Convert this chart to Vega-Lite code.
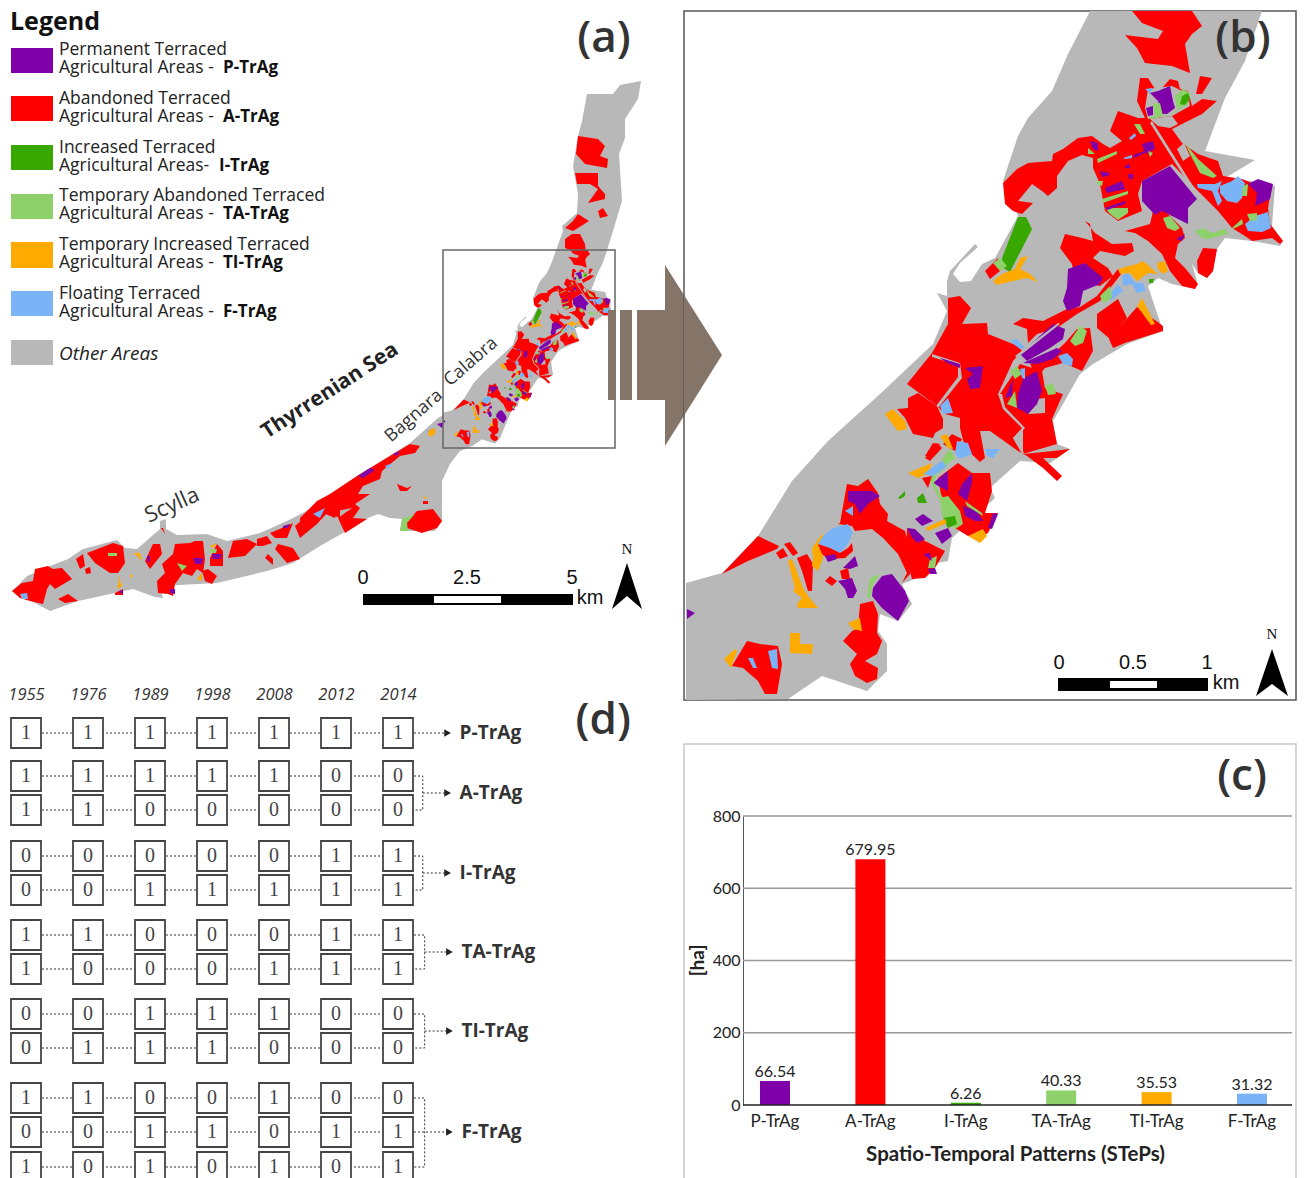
{"$schema":"https://vega.github.io/schema/vega-lite/v6.json","background":"white","padding":{"top":10,"left":0,"right":0,"bottom":0},"columns":2,"align":"each","bounds":"flush","spacing":{"row":44,"column":0},"config":{"view":{"stroke":null},"text":{"font":"Open Sans"}},
"datasets":{
"arrow":[
{"c":"B","g":{"type":"Polygon","coordinates":[[[608,309],[616,309],[616,399],[608,399],[608,309]]]}},
{"c":"B","g":{"type":"Polygon","coordinates":[[[620,309],[632,309],[632,399],[620,399],[620,309]]]}},
{"c":"B","g":{"type":"Polygon","coordinates":[[[637,309],[665,309],[665,264],[722,354],[665,445],[665,399],[637,399],[637,309]]]}}
],
"mapa":[
{"c":"O","g":{"type":"Polygon","coordinates":[[[641,80],[638,98],[625,118],[625,137],[619,153],[622,200],[613,230],[607,249],[591,289],[605,291],[613,314],[604,314],[589,324],[575,327],[579,340],[559,349],[551,361],[553,374],[538,377],[531,388],[519,399],[512,409],[508,418],[500,437],[495,442],[482,438],[472,445],[460,450],[450,463],[442,480],[442,520],[435,530],[400,530],[402,518],[390,517],[378,513],[368,517],[343,532],[320,545],[293,562],[267,570],[217,582],[160,585],[163,597],[155,596],[133,588],[78,600],[50,610],[12,590],[27,575],[50,565],[68,558],[83,548],[117,539],[125,547],[137,548],[160,528],[160,520],[166,518],[166,528],[177,534],[207,533],[227,540],[260,532],[287,520],[320,503],[340,488],[360,473],[410,442],[438,417],[453,409],[464,398],[473,383],[484,371],[498,358],[513,344],[517,330],[531,319],[538,307],[533,297],[541,280],[547,272],[552,261],[555,252],[563,230],[562,225],[577,212],[578,193],[573,165],[578,135],[582,120],[587,93],[613,93],[620,84],[641,80]]]}},
{"c":"A","g":{"type":"Polygon","coordinates":[[[578,135],[598,138],[605,145],[600,155],[608,158],[607,167],[585,163],[576,153],[578,135]]]}},
{"c":"A","g":{"type":"Polygon","coordinates":[[[575,172],[598,172],[598,185],[605,193],[605,198],[588,202],[598,188],[590,183],[577,183],[575,172]]]}},
{"c":"A","g":{"type":"Polygon","coordinates":[[[598,210],[603,207],[608,215],[600,217],[598,210]]]}},
{"c":"A","g":{"type":"Polygon","coordinates":[[[578,213],[589,220],[578,227],[573,230],[565,227],[573,220],[578,213]]]}},
{"c":"A","g":{"type":"Polygon","coordinates":[[[572,233],[580,233],[585,243],[587,265],[570,263],[568,253],[577,252],[565,247],[565,238],[572,233]]]}},
{"c":"A","g":{"type":"Polygon","coordinates":[[[357,475],[410,443],[420,445],[415,452],[400,455],[382,470],[380,478],[363,485],[358,493],[370,493],[355,503],[360,507],[353,517],[367,518],[345,532],[338,517],[352,507],[337,510],[335,517],[323,512],[313,520],[300,535],[300,517],[317,500],[330,493],[357,475]]]}},
{"c":"P","g":{"type":"Polygon","coordinates":[[[358,475],[370,467],[375,469],[363,477],[358,475]]]}},
{"c":"P","g":{"type":"Polygon","coordinates":[[[393,453],[400,450],[397,455],[393,453]]]}},
{"c":"F","g":{"type":"Polygon","coordinates":[[[385,465],[392,462],[388,468],[385,465]]]}},
{"c":"A","g":{"type":"Polygon","coordinates":[[[397,483],[407,487],[412,485],[407,490],[400,490],[397,483]]]}},
{"c":"A","g":{"type":"Polygon","coordinates":[[[407,527],[407,520],[417,510],[433,508],[442,520],[437,527],[422,532],[407,527]]]}},
{"c":"TA","g":{"type":"Polygon","coordinates":[[[400,530],[402,518],[415,513],[407,522],[408,530],[400,530]]]}},
{"c":"A","g":{"type":"Polygon","coordinates":[[[423,500],[428,500],[428,503],[423,503],[423,500]]]}},
{"c":"TI","g":{"type":"Polygon","coordinates":[[[422,496],[427,496],[426,498],[422,496]]]}},
{"c":"TI","g":{"type":"Polygon","coordinates":[[[427,430],[435,427],[435,433],[430,436],[427,430]]]}},
{"c":"P","g":{"type":"Polygon","coordinates":[[[437,423],[445,421],[442,427],[437,423]]]}},
{"c":"F","g":{"type":"Polygon","coordinates":[[[426,429],[428,429],[428,433],[426,429]]]}},
{"c":"A","g":{"type":"Polygon","coordinates":[[[12,590],[22,582],[33,580],[35,568],[48,565],[53,568],[62,567],[72,578],[55,588],[50,583],[47,588],[43,603],[30,600],[20,597],[12,590]]]}},
{"c":"A","g":{"type":"Polygon","coordinates":[[[58,598],[68,593],[78,600],[65,602],[58,598]]]}},
{"c":"A","g":{"type":"Polygon","coordinates":[[[76,558],[83,553],[85,565],[80,568],[76,558]]]}},
{"c":"A","g":{"type":"Polygon","coordinates":[[[87,552],[113,542],[123,545],[125,562],[118,572],[110,572],[95,562],[87,552]]]}},
{"c":"A","g":{"type":"Polygon","coordinates":[[[85,568],[90,566],[91,572],[86,573],[85,568]]]}},
{"c":"TA","g":{"type":"Polygon","coordinates":[[[108,552],[117,552],[117,555],[108,555],[108,552]]]}},
{"c":"F","g":{"type":"Polygon","coordinates":[[[20,593],[27,592],[28,598],[22,598],[20,593]]]}},
{"c":"TI","g":{"type":"Polygon","coordinates":[[[118,573],[122,585],[117,588],[119,580],[118,573]]]}},
{"c":"TI","g":{"type":"Polygon","coordinates":[[[130,573],[133,575],[130,577],[130,573]]]}},
{"c":"TI","g":{"type":"Polygon","coordinates":[[[133,552],[140,552],[142,560],[137,555],[133,552]]]}},
{"c":"A","g":{"type":"Polygon","coordinates":[[[115,592],[123,588],[123,594],[115,594],[115,592]]]}},
{"c":"P","g":{"type":"Polygon","coordinates":[[[119,590],[123,589],[123,594],[119,590]]]}},
{"c":"A","g":{"type":"Polygon","coordinates":[[[145,560],[153,543],[160,543],[162,553],[150,568],[145,560]]]}},
{"c":"P","g":{"type":"Polygon","coordinates":[[[147,555],[150,555],[150,560],[147,561],[147,555]]]}},
{"c":"A","g":{"type":"Polygon","coordinates":[[[162,563],[173,553],[175,543],[190,542],[195,540],[203,540],[205,558],[203,572],[197,568],[192,575],[183,572],[175,583],[173,595],[168,593],[158,592],[157,580],[165,572],[162,563]]]}},
{"c":"P","g":{"type":"Polygon","coordinates":[[[170,588],[175,588],[175,593],[170,592],[170,588]]]}},
{"c":"TA","g":{"type":"Polygon","coordinates":[[[177,562],[187,565],[182,570],[177,562]]]}},
{"c":"P","g":{"type":"Polygon","coordinates":[[[193,557],[203,557],[202,563],[195,563],[193,557]]]}},
{"c":"A","g":{"type":"Polygon","coordinates":[[[210,557],[217,543],[223,550],[223,565],[210,565],[210,557]]]}},
{"c":"P","g":{"type":"Polygon","coordinates":[[[212,553],[222,553],[220,558],[213,558],[212,553]]]}},
{"c":"TA","g":{"type":"Polygon","coordinates":[[[210,548],[217,548],[216,552],[210,552],[210,548]]]}},
{"c":"A","g":{"type":"Polygon","coordinates":[[[202,570],[208,568],[217,575],[212,583],[205,580],[202,570]]]}},
{"c":"TI","g":{"type":"Polygon","coordinates":[[[197,578],[202,572],[202,580],[197,578]]]}},
{"c":"TI","g":{"type":"Polygon","coordinates":[[[210,545],[217,542],[213,547],[210,545]]]}},
{"c":"A","g":{"type":"Polygon","coordinates":[[[228,557],[233,540],[247,538],[257,543],[245,555],[228,557]]]}},
{"c":"A","g":{"type":"Polygon","coordinates":[[[257,538],[267,535],[272,542],[263,545],[257,545],[257,538]]]}},
{"c":"A","g":{"type":"Polygon","coordinates":[[[275,548],[278,543],[293,547],[300,558],[287,562],[275,548]]]}},
{"c":"A","g":{"type":"Polygon","coordinates":[[[265,557],[268,553],[273,558],[273,564],[265,557]]]}},
{"c":"A","g":{"type":"Polygon","coordinates":[[[270,532],[287,525],[293,522],[287,537],[275,537],[270,532]]]}},
{"c":"P","g":{"type":"Polygon","coordinates":[[[283,525],[290,523],[288,527],[283,527],[283,525]]]}},
{"c":"A","g":{"type":"Polygon","coordinates":[[[295,525],[320,503],[340,488],[340,517],[327,512],[317,523],[300,537],[295,525]]]}},
{"c":"F","g":{"type":"Polygon","coordinates":[[[313,513],[325,507],[320,517],[313,513]]]}},
{"c":"A","g":{"type":"Polygon","coordinates":[[[161,527],[163,527],[165,533],[161,527]]]}},
{"c":"P","g":{"type":"Polygon","coordinates":[[[11,47],[53,47],[53,72],[11,72],[11,47]]]}},
{"c":"A","g":{"type":"Polygon","coordinates":[[[11,95],[53,95],[53,120],[11,120],[11,95]]]}},
{"c":"I","g":{"type":"Polygon","coordinates":[[[11,144],[53,144],[53,169],[11,169],[11,144]]]}},
{"c":"TA","g":{"type":"Polygon","coordinates":[[[11,193],[53,193],[53,218],[11,218],[11,193]]]}},
{"c":"TI","g":{"type":"Polygon","coordinates":[[[11,241],[53,241],[53,267],[11,267],[11,241]]]}},
{"c":"F","g":{"type":"Polygon","coordinates":[[[11,290],[53,290],[53,315],[11,315],[11,290]]]}},
{"c":"O","g":{"type":"Polygon","coordinates":[[[11,339],[53,339],[53,364],[11,364],[11,339]]]}},
{"c":"K","g":{"type":"Polygon","coordinates":[[[363,593],[573,593],[573,604],[363,604],[363,593]]]}},
{"c":"W","g":{"type":"Polygon","coordinates":[[[434,595],[501,595],[501,602],[434,602],[434,595]]]}},
{"c":"K","g":{"type":"Polygon","coordinates":[[[627,562],[642,608],[627,595],[612,608],[627,562]]]}}
],
"mapb":[
{"c":"O","g":{"type":"Polygon","coordinates":[[[686,699],[686,582],[722,572],[758,535],[792,480],[828,440],[880,393],[933,343],[947,310],[937,292],[947,295],[947,280],[950,270],[975,243],[978,246],[960,262],[953,273],[960,281],[971,280],[982,263],[995,257],[1018,215],[1003,180],[1018,135],[1028,117],[1052,90],[1068,53],[1085,20],[1090,10],[1262,10],[1245,60],[1225,97],[1205,150],[1255,159],[1225,177],[1250,180],[1275,185],[1272,225],[1283,240],[1280,245],[1252,240],[1225,237],[1217,248],[1213,270],[1207,277],[1198,272],[1192,263],[1197,280],[1195,288],[1172,283],[1158,277],[1148,285],[1163,330],[1127,343],[1093,363],[1080,373],[1063,403],[1053,420],[1057,443],[1070,448],[1050,462],[1020,460],[990,487],[995,497],[952,537],[948,560],[932,563],[928,573],[902,583],[912,603],[898,620],[880,613],[878,630],[887,643],[887,670],[867,690],[822,675],[788,698],[686,699]]]}},
{"c":"A","g":{"type":"Polygon","coordinates":[[[1132,10],[1192,10],[1202,25],[1192,33],[1185,43],[1190,72],[1172,65],[1145,62],[1137,47],[1125,34],[1158,38],[1163,30],[1142,22],[1132,10]]]}},
{"c":"A","g":{"type":"Polygon","coordinates":[[[1200,75],[1212,77],[1202,93],[1196,93],[1200,75]]]}},
{"c":"A","g":{"type":"Polygon","coordinates":[[[1125,230],[1150,223],[1153,210],[1165,210],[1182,227],[1185,237],[1178,243],[1175,257],[1185,267],[1198,283],[1195,288],[1182,285],[1170,270],[1162,253],[1148,240],[1135,232],[1125,230]]]}},
{"c":"A","g":{"type":"Polygon","coordinates":[[[1003,182],[1017,168],[1028,162],[1052,160],[1053,153],[1063,148],[1078,137],[1092,135],[1103,143],[1110,147],[1122,140],[1110,130],[1118,110],[1138,117],[1145,117],[1137,100],[1140,77],[1148,77],[1155,88],[1162,87],[1170,78],[1178,80],[1180,88],[1188,90],[1192,105],[1202,98],[1217,100],[1202,113],[1178,125],[1172,128],[1182,142],[1198,153],[1218,160],[1223,175],[1242,178],[1252,182],[1272,183],[1268,207],[1270,223],[1283,240],[1280,243],[1272,237],[1252,240],[1245,235],[1232,227],[1218,210],[1198,190],[1172,163],[1142,180],[1138,193],[1142,210],[1118,220],[1105,210],[1100,183],[1093,167],[1093,157],[1082,154],[1068,160],[1057,175],[1057,187],[1048,195],[1042,190],[1032,183],[1018,200],[1033,202],[1022,213],[1013,210],[1005,203],[1003,182]]]}},
{"c":"O","g":{"type":"Polygon","coordinates":[[[1150,118],[1172,115],[1178,123],[1170,127],[1158,125],[1150,118]]]}},
{"c":"O","g":{"type":"Polygon","coordinates":[[[1148,88],[1172,85],[1182,90],[1188,93],[1190,105],[1172,115],[1148,118],[1145,107],[1148,88]]]}},
{"c":"O","g":{"type":"Polygon","coordinates":[[[1177,148],[1184,142],[1190,155],[1183,160],[1177,148]]]}},
{"c":"TA","g":{"type":"Polygon","coordinates":[[[1185,142],[1198,158],[1217,175],[1213,177],[1200,172],[1190,153],[1185,142]]]}},
{"c":"O","g":{"type":"Polygon","coordinates":[[[1150,122],[1152,120],[1200,196],[1198,198],[1150,122]]]}},
{"c":"P","g":{"type":"Polygon","coordinates":[[[1142,180],[1170,165],[1197,198],[1188,207],[1188,223],[1172,215],[1162,210],[1155,214],[1142,200],[1142,180]]]}},
{"c":"TA","g":{"type":"Polygon","coordinates":[[[1105,207],[1128,207],[1128,212],[1118,219],[1110,213],[1105,207]]]}},
{"c":"P","g":{"type":"Polygon","coordinates":[[[1105,207],[1125,200],[1125,203],[1107,209],[1105,207]]]}},
{"c":"P","g":{"type":"Polygon","coordinates":[[[1105,187],[1122,180],[1125,188],[1107,192],[1105,187]]]}},
{"c":"P","g":{"type":"Polygon","coordinates":[[[1100,170],[1110,172],[1108,175],[1102,176],[1100,170]]]}},
{"c":"P","g":{"type":"Polygon","coordinates":[[[1090,140],[1098,142],[1098,150],[1093,148],[1090,140]]]}},
{"c":"TA","g":{"type":"Polygon","coordinates":[[[1088,147],[1095,153],[1088,153],[1088,147]]]}},
{"c":"TA","g":{"type":"Polygon","coordinates":[[[1097,158],[1117,150],[1117,153],[1098,162],[1097,158]]]}},
{"c":"TA","g":{"type":"Polygon","coordinates":[[[1097,180],[1103,180],[1102,185],[1097,183],[1097,180]]]}},
{"c":"TA","g":{"type":"Polygon","coordinates":[[[1102,198],[1128,190],[1128,193],[1103,202],[1102,198]]]}},
{"c":"P","g":{"type":"Polygon","coordinates":[[[1128,173],[1133,173],[1133,178],[1129,178],[1128,173]]]}},
{"c":"P","g":{"type":"Polygon","coordinates":[[[1142,143],[1153,140],[1155,148],[1145,153],[1142,143]]]}},
{"c":"P","g":{"type":"Polygon","coordinates":[[[1133,154],[1145,150],[1143,153],[1134,157],[1133,154]]]}},
{"c":"TA","g":{"type":"Polygon","coordinates":[[[1148,150],[1153,152],[1150,156],[1148,150]]]}},
{"c":"TA","g":{"type":"Polygon","coordinates":[[[1134,123],[1140,123],[1145,133],[1140,133],[1134,123]]]}},
{"c":"F","g":{"type":"Polygon","coordinates":[[[1129,137],[1135,132],[1136,135],[1131,139],[1129,137]]]}},
{"c":"F","g":{"type":"Polygon","coordinates":[[[1123,157],[1132,154],[1132,157],[1125,158],[1123,157]]]}},
{"c":"P","g":{"type":"Polygon","coordinates":[[[1125,165],[1130,163],[1130,167],[1125,167],[1125,165]]]}},
{"c":"F","g":{"type":"Polygon","coordinates":[[[1145,88],[1153,87],[1150,92],[1145,88]]]}},
{"c":"P","g":{"type":"Polygon","coordinates":[[[1150,92],[1158,90],[1170,85],[1173,100],[1175,107],[1167,113],[1162,113],[1158,100],[1150,92]]]}},
{"c":"TA","g":{"type":"Polygon","coordinates":[[[1153,103],[1160,102],[1163,115],[1155,117],[1153,103]]]}},
{"c":"P","g":{"type":"Polygon","coordinates":[[[1146,107],[1153,105],[1153,114],[1148,115],[1146,107]]]}},
{"c":"TA","g":{"type":"Polygon","coordinates":[[[1175,95],[1183,88],[1190,92],[1188,103],[1177,108],[1175,95]]]}},
{"c":"I","g":{"type":"Polygon","coordinates":[[[1182,95],[1188,92],[1190,98],[1185,104],[1180,103],[1182,95]]]}},
{"c":"TA","g":{"type":"Polygon","coordinates":[[[1148,116],[1167,115],[1185,105],[1190,103],[1172,113],[1152,118],[1148,116]]]}},
{"c":"F","g":{"type":"Polygon","coordinates":[[[1220,185],[1232,180],[1238,175],[1245,182],[1242,197],[1237,202],[1227,200],[1220,192],[1220,185]]]}},
{"c":"F","g":{"type":"Polygon","coordinates":[[[1197,183],[1215,183],[1222,180],[1218,190],[1222,200],[1218,205],[1212,190],[1198,187],[1197,183]]]}},
{"c":"TA","g":{"type":"Polygon","coordinates":[[[1243,185],[1248,183],[1247,195],[1242,195],[1243,185]]]}},
{"c":"P","g":{"type":"Polygon","coordinates":[[[1250,182],[1258,178],[1273,183],[1270,198],[1255,205],[1257,192],[1248,183],[1250,182]]]}},
{"c":"F","g":{"type":"Polygon","coordinates":[[[1245,223],[1255,215],[1268,211],[1271,227],[1262,231],[1248,230],[1245,223]]]}},
{"c":"TA","g":{"type":"Polygon","coordinates":[[[1247,213],[1257,212],[1257,219],[1250,220],[1247,213]]]}},
{"c":"TA","g":{"type":"Polygon","coordinates":[[[1232,227],[1242,218],[1243,223],[1233,228],[1232,227]]]}},
{"c":"TA","g":{"type":"Polygon","coordinates":[[[1195,230],[1203,227],[1212,232],[1225,228],[1228,233],[1208,238],[1202,237],[1195,230]]]}},
{"c":"TA","g":{"type":"Polygon","coordinates":[[[1163,217],[1170,215],[1180,227],[1175,230],[1167,227],[1163,217]]]}},
{"c":"P","g":{"type":"Polygon","coordinates":[[[1176,238],[1185,233],[1182,240],[1176,238]]]}},
{"c":"A","g":{"type":"Polygon","coordinates":[[[1197,260],[1203,247],[1217,248],[1213,270],[1207,277],[1198,272],[1197,260]]]}},
{"c":"A","g":{"type":"Polygon","coordinates":[[[985,270],[998,257],[1000,270],[990,278],[985,270]]]}},
{"c":"I","g":{"type":"Polygon","coordinates":[[[1018,216],[1026,216],[1032,228],[1010,271],[1003,267],[1002,257],[1018,216]]]}},
{"c":"TA","g":{"type":"Polygon","coordinates":[[[993,262],[1000,257],[1007,265],[1000,270],[993,262]]]}},
{"c":"TI","g":{"type":"Polygon","coordinates":[[[993,280],[1002,273],[1015,268],[1020,257],[1028,255],[1020,268],[1030,273],[1038,281],[1027,277],[1013,280],[997,284],[993,280]]]}},
{"c":"A","g":{"type":"Polygon","coordinates":[[[1060,247],[1065,233],[1082,237],[1093,240],[1090,223],[1085,220],[1095,232],[1112,243],[1132,242],[1134,250],[1125,255],[1100,250],[1093,257],[1108,267],[1113,275],[1100,285],[1075,280],[1072,263],[1060,247]]]}},
{"c":"A","g":{"type":"Polygon","coordinates":[[[1118,268],[1122,272],[1100,300],[1077,313],[1057,327],[1037,333],[1028,342],[1027,328],[1013,323],[1023,317],[1043,320],[1067,308],[1080,306],[1097,295],[1118,268]]]}},
{"c":"P","g":{"type":"Polygon","coordinates":[[[1068,268],[1085,262],[1103,277],[1100,283],[1083,290],[1080,305],[1067,310],[1063,300],[1067,287],[1068,268]]]}},
{"c":"TI","g":{"type":"Polygon","coordinates":[[[1118,268],[1137,263],[1143,260],[1158,273],[1148,272],[1137,280],[1130,272],[1120,273],[1118,268]]]}},
{"c":"TI","g":{"type":"Polygon","coordinates":[[[1157,262],[1165,260],[1168,270],[1163,273],[1158,268],[1157,262]]]}},
{"c":"I","g":{"type":"Polygon","coordinates":[[[1149,278],[1154,278],[1153,282],[1149,282],[1149,278]]]}},
{"c":"F","g":{"type":"Polygon","coordinates":[[[1122,275],[1128,272],[1135,282],[1143,282],[1146,290],[1137,292],[1132,283],[1123,285],[1122,275]]]}},
{"c":"F","g":{"type":"Polygon","coordinates":[[[1110,293],[1118,283],[1123,290],[1110,300],[1110,293]]]}},
{"c":"TA","g":{"type":"Polygon","coordinates":[[[1100,295],[1110,285],[1112,297],[1103,302],[1100,295]]]}},
{"c":"A","g":{"type":"Polygon","coordinates":[[[1097,313],[1118,298],[1127,317],[1110,338],[1097,327],[1097,313]]]}},
{"c":"A","g":{"type":"Polygon","coordinates":[[[1137,306],[1163,325],[1163,330],[1125,342],[1113,347],[1109,338],[1137,306]]]}},
{"c":"TI","g":{"type":"Polygon","coordinates":[[[1142,297],[1155,323],[1151,324],[1137,305],[1142,297]]]}},
{"c":"A","g":{"type":"Polygon","coordinates":[[[907,383],[932,352],[948,323],[948,297],[960,295],[971,307],[962,323],[987,322],[988,333],[1018,345],[1022,350],[1013,360],[998,393],[1003,407],[1023,427],[1013,437],[1023,453],[1053,450],[1070,448],[1057,457],[1043,457],[1062,475],[1057,480],[1043,467],[1027,455],[1018,450],[990,430],[980,430],[985,457],[980,461],[965,447],[960,427],[960,417],[945,413],[937,405],[907,383]]]}},
{"c":"A","g":{"type":"Polygon","coordinates":[[[1042,370],[1045,387],[1063,393],[1052,418],[1057,443],[1023,453],[1023,427],[1005,407],[1000,393],[1020,363],[1042,370]]]}},
{"c":"A","g":{"type":"Polygon","coordinates":[[[1065,342],[1077,328],[1090,327],[1093,350],[1082,370],[1063,362],[1045,367],[1037,377],[1030,363],[1053,353],[1065,342]]]}},
{"c":"O","g":{"type":"Polygon","coordinates":[[[1043,370],[1063,362],[1082,370],[1075,380],[1063,393],[1045,387],[1043,370]]]}},
{"c":"O","g":{"type":"Polygon","coordinates":[[[1037,398],[1045,397],[1045,412],[1028,413],[1037,398]]]}},
{"c":"O","g":{"type":"Polygon","coordinates":[[[932,353],[960,362],[962,377],[938,407],[936,405],[958,376],[958,364],[932,356],[932,353]]]}},
{"c":"O","g":{"type":"Polygon","coordinates":[[[917,392],[937,405],[936,407],[917,394],[917,392]]]}},
{"c":"P","g":{"type":"Polygon","coordinates":[[[940,357],[960,363],[960,367],[947,362],[940,357]]]}},
{"c":"P","g":{"type":"Polygon","coordinates":[[[965,367],[983,365],[980,387],[970,388],[967,378],[973,373],[965,367]]]}},
{"c":"F","g":{"type":"Polygon","coordinates":[[[940,405],[948,397],[953,412],[943,413],[940,405]]]}},
{"c":"TI","g":{"type":"Polygon","coordinates":[[[937,410],[943,418],[939,420],[937,410]]]}},
{"c":"O","g":{"type":"Polygon","coordinates":[[[999,393],[1002,393],[1005,406],[1025,427],[1016,437],[1024,452],[1022,453],[1013,437],[1022,427],[1003,408],[999,393]]]}},
{"c":"F","g":{"type":"Polygon","coordinates":[[[1010,340],[1017,338],[1025,347],[1020,348],[1010,340]]]}},
{"c":"P","g":{"type":"Polygon","coordinates":[[[1020,353],[1053,323],[1065,328],[1063,338],[1050,347],[1027,360],[1020,353]]]}},
{"c":"P","g":{"type":"Polygon","coordinates":[[[1023,362],[1057,347],[1062,350],[1053,358],[1037,363],[1023,362]]]}},
{"c":"TA","g":{"type":"Polygon","coordinates":[[[1070,340],[1080,325],[1087,330],[1083,342],[1075,345],[1070,340]]]}},
{"c":"F","g":{"type":"Polygon","coordinates":[[[1058,355],[1067,352],[1073,358],[1072,365],[1063,363],[1058,355]]]}},
{"c":"P","g":{"type":"Polygon","coordinates":[[[1018,393],[1023,378],[1037,370],[1042,390],[1037,403],[1028,413],[1017,407],[1018,393]]]}},
{"c":"P","g":{"type":"Polygon","coordinates":[[[1005,397],[1013,378],[1012,395],[1005,397]]]}},
{"c":"TA","g":{"type":"Polygon","coordinates":[[[1007,403],[1015,390],[1017,407],[1007,403]]]}},
{"c":"TA","g":{"type":"Polygon","coordinates":[[[1010,370],[1017,365],[1022,373],[1015,378],[1010,370]]]}},
{"c":"TA","g":{"type":"Polygon","coordinates":[[[1045,385],[1053,382],[1056,393],[1048,394],[1045,385]]]}},
{"c":"F","g":{"type":"Polygon","coordinates":[[[1020,368],[1025,367],[1025,378],[1022,377],[1020,368]]]}},
{"c":"O","g":{"type":"Polygon","coordinates":[[[1015,355],[1058,322],[1060,323],[1017,357],[1015,355]]]}},
{"c":"A","g":{"type":"Polygon","coordinates":[[[908,397],[918,392],[937,405],[943,418],[943,427],[935,432],[933,437],[913,433],[905,417],[897,408],[908,407],[908,397]]]}},
{"c":"TI","g":{"type":"Polygon","coordinates":[[[885,413],[893,408],[905,420],[907,428],[898,430],[890,420],[885,413]]]}},
{"c":"A","g":{"type":"Polygon","coordinates":[[[952,433],[962,438],[955,450],[943,443],[952,433]]]}},
{"c":"A","g":{"type":"Polygon","coordinates":[[[925,457],[937,442],[942,447],[930,460],[925,457]]]}},
{"c":"F","g":{"type":"Polygon","coordinates":[[[957,440],[968,442],[972,453],[960,458],[955,453],[957,440]]]}},
{"c":"F","g":{"type":"Polygon","coordinates":[[[985,448],[1000,448],[993,457],[987,455],[985,448]]]}},
{"c":"TI","g":{"type":"Polygon","coordinates":[[[940,435],[947,433],[953,448],[948,447],[940,435]]]}},
{"c":"TA","g":{"type":"Polygon","coordinates":[[[942,458],[950,448],[955,457],[945,465],[942,458]]]}},
{"c":"A","g":{"type":"Polygon","coordinates":[[[722,573],[758,535],[779,545],[777,548],[748,560],[722,573]]]}},
{"c":"A","g":{"type":"Polygon","coordinates":[[[776,552],[783,547],[788,555],[780,558],[776,552]]]}},
{"c":"A","g":{"type":"Polygon","coordinates":[[[784,543],[790,541],[798,552],[793,555],[784,543]]]}},
{"c":"A","g":{"type":"Polygon","coordinates":[[[797,557],[807,553],[813,563],[812,590],[808,590],[802,570],[797,557]]]}},
{"c":"TI","g":{"type":"Polygon","coordinates":[[[788,560],[792,558],[803,587],[808,595],[818,607],[798,607],[797,603],[802,597],[793,590],[795,587],[788,560]]]}},
{"c":"TI","g":{"type":"Polygon","coordinates":[[[812,547],[823,532],[822,543],[823,557],[818,570],[812,565],[813,557],[812,547]]]}},
{"c":"A","g":{"type":"Polygon","coordinates":[[[840,522],[847,483],[858,485],[868,478],[878,492],[880,503],[888,513],[887,520],[905,530],[908,540],[910,573],[902,582],[907,572],[898,553],[883,537],[872,528],[855,530],[852,525],[838,523],[840,522]]]}},
{"c":"P","g":{"type":"Polygon","coordinates":[[[848,490],[872,490],[880,495],[868,503],[860,513],[855,503],[848,500],[848,490]]]}},
{"c":"F","g":{"type":"Polygon","coordinates":[[[845,510],[853,505],[853,515],[845,510]]]}},
{"c":"F","g":{"type":"Polygon","coordinates":[[[823,535],[833,527],[848,523],[853,532],[848,543],[840,552],[830,547],[818,543],[823,535]]]}},
{"c":"A","g":{"type":"Polygon","coordinates":[[[818,543],[830,547],[840,552],[848,547],[852,542],[853,550],[845,557],[828,558],[822,553],[818,543]]]}},
{"c":"P","g":{"type":"Polygon","coordinates":[[[825,555],[835,553],[837,558],[828,561],[825,555]]]}},
{"c":"P","g":{"type":"Polygon","coordinates":[[[843,567],[855,555],[858,565],[850,568],[843,567]]]}},
{"c":"A","g":{"type":"Polygon","coordinates":[[[840,570],[848,567],[850,578],[842,578],[840,570]]]}},
{"c":"A","g":{"type":"Polygon","coordinates":[[[825,580],[830,575],[837,580],[832,585],[825,580]]]}},
{"c":"P","g":{"type":"Polygon","coordinates":[[[838,580],[852,577],[857,590],[853,597],[848,597],[845,588],[838,580]]]}},
{"c":"TA","g":{"type":"Polygon","coordinates":[[[867,597],[870,577],[880,573],[873,583],[870,597],[867,597]]]}},
{"c":"P","g":{"type":"Polygon","coordinates":[[[873,587],[882,575],[892,573],[905,590],[909,600],[898,620],[882,607],[872,595],[873,587]]]}},
{"c":"A","g":{"type":"Polygon","coordinates":[[[860,603],[873,600],[878,613],[877,632],[882,640],[877,653],[865,660],[878,667],[877,678],[867,682],[855,675],[850,663],[857,653],[843,640],[852,630],[858,627],[860,603]]]}},
{"c":"TI","g":{"type":"Polygon","coordinates":[[[848,622],[860,617],[862,630],[853,628],[848,622]]]}},
{"c":"TI","g":{"type":"Polygon","coordinates":[[[790,632],[800,632],[800,643],[813,643],[812,653],[790,652],[790,632]]]}},
{"c":"A","g":{"type":"Polygon","coordinates":[[[732,665],[747,640],[760,643],[778,645],[782,663],[777,693],[765,693],[758,680],[743,667],[732,665]]]}},
{"c":"TI","g":{"type":"Polygon","coordinates":[[[724,658],[735,648],[737,650],[731,667],[724,658]]]}},
{"c":"F","g":{"type":"Polygon","coordinates":[[[768,650],[777,648],[778,668],[772,667],[768,650]]]}},
{"c":"F","g":{"type":"Polygon","coordinates":[[[748,657],[753,657],[757,667],[753,667],[748,657]]]}},
{"c":"P","g":{"type":"Polygon","coordinates":[[[687,608],[695,612],[687,618],[687,608]]]}},
{"c":"A","g":{"type":"Polygon","coordinates":[[[938,477],[958,462],[972,472],[990,472],[992,490],[985,512],[998,512],[988,532],[982,535],[968,535],[955,527],[945,515],[938,477]]]}},
{"c":"A","g":{"type":"Polygon","coordinates":[[[907,527],[925,540],[945,550],[935,567],[925,577],[912,578],[907,560],[907,527]]]}},
{"c":"P","g":{"type":"Polygon","coordinates":[[[907,527],[915,528],[925,538],[918,542],[912,537],[907,527]]]}},
{"c":"P","g":{"type":"Polygon","coordinates":[[[933,482],[948,470],[948,490],[942,487],[933,482]]]}},
{"c":"TA","g":{"type":"Polygon","coordinates":[[[930,480],[933,470],[945,463],[948,465],[937,473],[934,482],[945,500],[942,503],[930,480]]]}},
{"c":"TA","g":{"type":"Polygon","coordinates":[[[940,497],[948,495],[960,510],[963,523],[955,528],[942,515],[940,497]]]}},
{"c":"I","g":{"type":"Polygon","coordinates":[[[943,517],[955,515],[957,523],[948,527],[943,517]]]}},
{"c":"P","g":{"type":"Polygon","coordinates":[[[962,483],[972,472],[972,482],[967,500],[958,493],[962,483]]]}},
{"c":"P","g":{"type":"Polygon","coordinates":[[[963,505],[977,510],[983,520],[975,520],[965,515],[963,505]]]}},
{"c":"TA","g":{"type":"Polygon","coordinates":[[[965,500],[982,512],[983,515],[967,505],[965,500]]]}},
{"c":"P","g":{"type":"Polygon","coordinates":[[[988,527],[993,512],[998,513],[992,528],[988,527]]]}},
{"c":"I","g":{"type":"Polygon","coordinates":[[[898,497],[905,490],[905,495],[900,498],[898,497]]]}},
{"c":"I","g":{"type":"Polygon","coordinates":[[[917,497],[923,492],[927,502],[918,502],[917,497]]]}},
{"c":"P","g":{"type":"Polygon","coordinates":[[[915,518],[923,513],[933,520],[922,525],[915,518]]]}},
{"c":"TI","g":{"type":"Polygon","coordinates":[[[925,527],[945,518],[947,522],[928,530],[925,527]]]}},
{"c":"P","g":{"type":"Polygon","coordinates":[[[935,532],[948,527],[952,535],[942,543],[935,532]]]}},
{"c":"TI","g":{"type":"Polygon","coordinates":[[[968,535],[983,528],[987,535],[980,542],[968,535]]]}},
{"c":"TA","g":{"type":"Polygon","coordinates":[[[930,558],[937,555],[935,567],[928,567],[930,558]]]}},
{"c":"P","g":{"type":"Polygon","coordinates":[[[928,568],[935,567],[937,573],[930,573],[928,568]]]}},
{"c":"P","g":{"type":"Polygon","coordinates":[[[923,553],[930,552],[932,560],[923,553]]]}},
{"c":"TI","g":{"type":"Polygon","coordinates":[[[908,472],[932,462],[928,473],[918,477],[908,472]]]}},
{"c":"F","g":{"type":"Polygon","coordinates":[[[923,473],[942,460],[947,465],[933,475],[923,473]]]}},
{"c":"A","g":{"type":"Polygon","coordinates":[[[925,455],[933,442],[940,443],[933,455],[925,455]]]}},
{"c":"A","g":{"type":"Polygon","coordinates":[[[922,477],[932,475],[928,487],[922,477]]]}}
],
"markb":[
{"c":"K","g":{"type":"Polygon","coordinates":[[[1058,677],[1208,677],[1208,690],[1058,690],[1058,677]]]}},
{"c":"W","g":{"type":"Polygon","coordinates":[[[1110,680],[1157,680],[1157,687],[1110,687],[1110,680]]]}},
{"c":"K","g":{"type":"Polygon","coordinates":[[[1272,648],[1288,695],[1272,683],[1256,695],[1272,648]]]}}
],
"cells":[
{"y":732,"k":0,"v":1},{"y":732,"k":1,"v":1},{"y":732,"k":2,"v":1},{"y":732,"k":3,"v":1},{"y":732,"k":4,"v":1},{"y":732,"k":5,"v":1},{"y":732,"k":6,"v":1},
{"y":775,"k":0,"v":1},{"y":775,"k":1,"v":1},{"y":775,"k":2,"v":1},{"y":775,"k":3,"v":1},{"y":775,"k":4,"v":1},{"y":775,"k":5,"v":0},{"y":775,"k":6,"v":0},
{"y":809,"k":0,"v":1},{"y":809,"k":1,"v":1},{"y":809,"k":2,"v":0},{"y":809,"k":3,"v":0},{"y":809,"k":4,"v":0},{"y":809,"k":5,"v":0},{"y":809,"k":6,"v":0},
{"y":855,"k":0,"v":0},{"y":855,"k":1,"v":0},{"y":855,"k":2,"v":0},{"y":855,"k":3,"v":0},{"y":855,"k":4,"v":0},{"y":855,"k":5,"v":1},{"y":855,"k":6,"v":1},
{"y":889,"k":0,"v":0},{"y":889,"k":1,"v":0},{"y":889,"k":2,"v":1},{"y":889,"k":3,"v":1},{"y":889,"k":4,"v":1},{"y":889,"k":5,"v":1},{"y":889,"k":6,"v":1},
{"y":934,"k":0,"v":1},{"y":934,"k":1,"v":1},{"y":934,"k":2,"v":0},{"y":934,"k":3,"v":0},{"y":934,"k":4,"v":0},{"y":934,"k":5,"v":1},{"y":934,"k":6,"v":1},
{"y":968,"k":0,"v":1},{"y":968,"k":1,"v":0},{"y":968,"k":2,"v":0},{"y":968,"k":3,"v":0},{"y":968,"k":4,"v":1},{"y":968,"k":5,"v":1},{"y":968,"k":6,"v":1},
{"y":1013,"k":0,"v":0},{"y":1013,"k":1,"v":0},{"y":1013,"k":2,"v":1},{"y":1013,"k":3,"v":1},{"y":1013,"k":4,"v":1},{"y":1013,"k":5,"v":0},{"y":1013,"k":6,"v":0},
{"y":1047,"k":0,"v":0},{"y":1047,"k":1,"v":1},{"y":1047,"k":2,"v":1},{"y":1047,"k":3,"v":1},{"y":1047,"k":4,"v":0},{"y":1047,"k":5,"v":0},{"y":1047,"k":6,"v":0},
{"y":1097,"k":0,"v":1},{"y":1097,"k":1,"v":1},{"y":1097,"k":2,"v":0},{"y":1097,"k":3,"v":0},{"y":1097,"k":4,"v":1},{"y":1097,"k":5,"v":0},{"y":1097,"k":6,"v":0},
{"y":1131,"k":0,"v":0},{"y":1131,"k":1,"v":0},{"y":1131,"k":2,"v":1},{"y":1131,"k":3,"v":1},{"y":1131,"k":4,"v":0},{"y":1131,"k":5,"v":1},{"y":1131,"k":6,"v":1},
{"y":1166,"k":0,"v":1},{"y":1166,"k":1,"v":0},{"y":1166,"k":2,"v":1},{"y":1166,"k":3,"v":0},{"y":1166,"k":4,"v":1},{"y":1166,"k":5,"v":0},{"y":1166,"k":6,"v":1}
],
"links":[
{"g":"P","i":0,"k":6,"y":732},{"g":"P","i":1,"k":6.77,"y":732},
{"g":"A","i":0,"k":6,"y":775},{"g":"A","i":1,"k":6.4,"y":775},{"g":"A","i":2,"k":6.4,"y":809},{"g":"A","i":3,"k":6,"y":809},
{"g":"Am","i":0,"k":6.4,"y":792},{"g":"Am","i":1,"k":6.77,"y":792},
{"g":"I","i":0,"k":6,"y":855},{"g":"I","i":1,"k":6.4,"y":855},{"g":"I","i":2,"k":6.4,"y":889},{"g":"I","i":3,"k":6,"y":889},
{"g":"Im","i":0,"k":6.4,"y":872},{"g":"Im","i":1,"k":6.77,"y":872},
{"g":"TA","i":0,"k":6,"y":934},{"g":"TA","i":1,"k":6.43,"y":934},{"g":"TA","i":2,"k":6.43,"y":968},{"g":"TA","i":3,"k":6,"y":968},
{"g":"TAm","i":0,"k":6.43,"y":951},{"g":"TAm","i":1,"k":6.8,"y":951},
{"g":"TI","i":0,"k":6,"y":1013},{"g":"TI","i":1,"k":6.43,"y":1013},{"g":"TI","i":2,"k":6.43,"y":1047},{"g":"TI","i":3,"k":6,"y":1047},
{"g":"TIm","i":0,"k":6.43,"y":1030},{"g":"TIm","i":1,"k":6.8,"y":1030},
{"g":"F","i":0,"k":6,"y":1097},{"g":"F","i":1,"k":6.43,"y":1097},{"g":"F","i":2,"k":6.43,"y":1166},{"g":"F","i":3,"k":6,"y":1166},
{"g":"Fm","i":0,"k":6,"y":1131},{"g":"Fm","i":1,"k":6.8,"y":1131}
],
"heads":[{"k":6.8,"y":732,"t":"P-TrAg"},{"k":6.8,"y":792,"t":"A-TrAg"},{"k":6.8,"y":872,"t":"I-TrAg"},{"k":6.83,"y":951,"t":"TA-TrAg"},{"k":6.83,"y":1030,"t":"TI-TrAg"},{"k":6.83,"y":1131,"t":"F-TrAg"}],
"bars":[{"s":"P-TrAg","ha":66.54,"c":"P"},{"s":"A-TrAg","ha":679.95,"c":"A"},{"s":"I-TrAg","ha":6.26,"c":"I"},{"s":"TA-TrAg","ha":40.33,"c":"TA"},{"s":"TI-TrAg","ha":35.53,"c":"TI"},{"s":"F-TrAg","ha":31.32,"c":"F"}]
},
"concat":[
{"width":684,"height":689,"layer":[
{"data":{"name":"mapa"},"mark":{"type":"geoshape","strokeWidth":0},"projection":{"type":"identity","scale":1,"translate":[0,-10],"precision":0.11},"encoding":{"shape":{"field":"g","type":"geojson"},"fill":{"field":"c","type":"nominal","legend":null,"scale":{"domain":["P","A","I","TA","TI","F","O","K","W","B"],"range":["#7f00a8","#ff0000","#38a800","#8ed16a","#ffaa00","#7ab4f7","#b8b8b8","#000000","#ffffff","#857569"]}}}},
{"data":{"name":"mapb"},"mark":{"type":"geoshape","strokeWidth":0},"projection":{"type":"identity","scale":0.2845,"translate":[248.1,236.2],"precision":0.12},"encoding":{"shape":{"field":"g","type":"geojson"},"fill":{"field":"c","type":"nominal","legend":null,"scale":{"domain":["P","A","I","TA","TI","F","O","K","W","B"],"range":["#7f00a8","#ff0000","#38a800","#8ed16a","#ffaa00","#7ab4f7","#b8b8b8","#000000","#ffffff","#857569"]}}}},
{"data":{"values":[{"g":{"type":"Polygon","coordinates":[[[443,249],[615,249],[615,447],[443,447],[443,249]]]}}]},"mark":{"type":"geoshape","filled":false,"stroke":"#666666","strokeWidth":1.5},"projection":{"type":"identity","scale":1,"translate":[0,-10],"precision":0.11},"encoding":{"shape":{"field":"g","type":"geojson"}}},
{"data":{"name":"arrow"},"mark":{"type":"geoshape","strokeWidth":0},"projection":{"type":"identity","scale":1,"translate":[0,-10],"precision":0.11},"encoding":{"shape":{"field":"g","type":"geojson"},"fill":{"field":"c","type":"nominal","legend":null,"scale":{"domain":["P","A","I","TA","TI","F","O","K","W","B"],"range":["#7f00a8","#ff0000","#38a800","#8ed16a","#ffaa00","#7ab4f7","#b8b8b8","#000000","#ffffff","#857569"]}}}},
{"data":{"values":[{"x":10,"y":21,"t":"Legend"}]},"mark":{"type":"text","align":"left","font":"Open Sans","fontWeight":"bold","fontSize":25,"color":"#111"},"projection":{"type":"identity","scale":1,"translate":[0,-10],"precision":0.11},"encoding":{"longitude":{"field":"x","type":"quantitative"},"latitude":{"field":"y","type":"quantitative"},"text":{"field":"t"}}},
{"data":{"values":[{"x":59,"y":49,"t":"Permanent Terraced"},{"x":59,"y":67,"t":"Agricultural Areas -"},{"x":59,"y":98,"t":"Abandoned Terraced"},{"x":59,"y":116,"t":"Agricultural Areas -"},{"x":59,"y":147,"t":"Increased Terraced"},{"x":59,"y":165,"t":"Agricultural Areas-"},{"x":59,"y":195,"t":"Temporary Abandoned Terraced"},{"x":59,"y":213,"t":"Agricultural Areas -"},{"x":59,"y":244,"t":"Temporary Increased Terraced"},{"x":59,"y":262,"t":"Agricultural Areas -"},{"x":59,"y":293,"t":"Floating Terraced"},{"x":59,"y":311,"t":"Agricultural Areas -"}]},"mark":{"type":"text","align":"left","font":"Open Sans","fontSize":17.5,"color":"#222"},"projection":{"type":"identity","scale":1,"translate":[0,-10],"precision":0.11},"encoding":{"longitude":{"field":"x","type":"quantitative"},"latitude":{"field":"y","type":"quantitative"},"text":{"field":"t"}}},
{"data":{"values":[{"x":223,"y":67,"t":"P-TrAg"},{"x":223,"y":116,"t":"A-TrAg"},{"x":219,"y":165,"t":"I-TrAg"},{"x":223,"y":213,"t":"TA-TrAg"},{"x":223,"y":262,"t":"TI-TrAg"},{"x":223,"y":311,"t":"F-TrAg"}]},"mark":{"type":"text","align":"left","font":"Open Sans","fontWeight":"bold","fontSize":17,"color":"#111"},"projection":{"type":"identity","scale":1,"translate":[0,-10],"precision":0.11},"encoding":{"longitude":{"field":"x","type":"quantitative"},"latitude":{"field":"y","type":"quantitative"},"text":{"field":"t"}}},
{"data":{"values":[{"x":59,"y":353,"t":"Other Areas"}]},"mark":{"type":"text","align":"left","font":"Open Sans","fontStyle":"italic","fontSize":19,"color":"#222"},"projection":{"type":"identity","scale":1,"translate":[0,-10],"precision":0.11},"encoding":{"longitude":{"field":"x","type":"quantitative"},"latitude":{"field":"y","type":"quantitative"},"text":{"field":"t"}}},
{"data":{"values":[{"x":604,"y":38,"t":"(a)"}]},"mark":{"type":"text","font":"Open Sans","fontWeight":600,"fontSize":44,"color":"#333","baseline":"middle"},"projection":{"type":"identity","scale":1,"translate":[0,-10],"precision":0.11},"encoding":{"longitude":{"field":"x","type":"quantitative"},"latitude":{"field":"y","type":"quantitative"},"text":{"field":"t"}}},
{"data":{"values":[{"x":330,"y":390,"t":"Thyrrenian  Sea"}]},"mark":{"type":"text","font":"Open Sans","fontWeight":"bold","fontSize":21,"color":"#222","angle":327,"baseline":"middle"},"projection":{"type":"identity","scale":1,"translate":[0,-10],"precision":0.11},"encoding":{"longitude":{"field":"x","type":"quantitative"},"latitude":{"field":"y","type":"quantitative"},"text":{"field":"t"}}},
{"data":{"values":[{"x":172,"y":504,"t":"Scylla"}]},"mark":{"type":"text","font":"Open Sans","fontSize":22,"color":"#333","angle":336,"baseline":"middle"},"projection":{"type":"identity","scale":1,"translate":[0,-10],"precision":0.11},"encoding":{"longitude":{"field":"x","type":"quantitative"},"latitude":{"field":"y","type":"quantitative"},"text":{"field":"t"}}},
{"data":{"values":[{"x":414,"y":415,"t":"Bagnara"},{"x":471,"y":361,"t":"Calabra"}]},"mark":{"type":"text","font":"Open Sans","fontSize":18,"color":"#333","angle":319,"baseline":"middle"},"projection":{"type":"identity","scale":1,"translate":[0,-10],"precision":0.11},"encoding":{"longitude":{"field":"x","type":"quantitative"},"latitude":{"field":"y","type":"quantitative"},"text":{"field":"t"}}},
{"data":{"values":[{"x":363,"y":577,"t":"0"},{"x":467,"y":577,"t":"2.5"},{"x":572,"y":577,"t":"5"},{"x":590,"y":597,"t":"km"}]},"mark":{"type":"text","font":"Liberation Sans","fontSize":20,"color":"#111","baseline":"middle"},"projection":{"type":"identity","scale":1,"translate":[0,-10],"precision":0.11},"encoding":{"longitude":{"field":"x","type":"quantitative"},"latitude":{"field":"y","type":"quantitative"},"text":{"field":"t"}}},
{"data":{"values":[{"x":627,"y":548,"t":"N"}]},"mark":{"type":"text","font":"Liberation Serif","fontSize":15,"color":"#111","baseline":"middle"},"projection":{"type":"identity","scale":1,"translate":[0,-10],"precision":0.11},"encoding":{"longitude":{"field":"x","type":"quantitative"},"latitude":{"field":"y","type":"quantitative"},"text":{"field":"t"}}}
]},
{"width":612,"height":689,"view":{"stroke":"#555555","strokeWidth":1.5},"layer":[
{"data":{"name":"mapb"},"mark":{"type":"geoshape","strokeWidth":0},"projection":{"type":"identity","scale":1,"translate":[-684,-10],"precision":0.13},"encoding":{"shape":{"field":"g","type":"geojson"},"fill":{"field":"c","type":"nominal","legend":null,"scale":{"domain":["P","A","I","TA","TI","F","O","K","W","B"],"range":["#7f00a8","#ff0000","#38a800","#8ed16a","#ffaa00","#7ab4f7","#b8b8b8","#000000","#ffffff","#857569"]}}}},
{"data":{"name":"markb"},"mark":{"type":"geoshape","strokeWidth":0},"projection":{"type":"identity","scale":1,"translate":[-684,-10],"precision":0.13},"encoding":{"shape":{"field":"g","type":"geojson"},"fill":{"field":"c","type":"nominal","legend":null,"scale":{"domain":["P","A","I","TA","TI","F","O","K","W","B"],"range":["#7f00a8","#ff0000","#38a800","#8ed16a","#ffaa00","#7ab4f7","#b8b8b8","#000000","#ffffff","#857569"]}}}},
{"data":{"name":"arrow"},"mark":{"type":"geoshape","strokeWidth":0},"projection":{"type":"identity","scale":1,"translate":[-684,-10],"precision":0.13},"encoding":{"shape":{"field":"g","type":"geojson"},"fill":{"field":"c","type":"nominal","legend":null,"scale":{"domain":["P","A","I","TA","TI","F","O","K","W","B"],"range":["#7f00a8","#ff0000","#38a800","#8ed16a","#ffaa00","#7ab4f7","#b8b8b8","#000000","#ffffff","#857569"]}}}},
{"data":{"values":[{"x":1243,"y":38,"t":"(b)"}]},"mark":{"type":"text","font":"Open Sans","fontWeight":600,"fontSize":44,"color":"#333","baseline":"middle"},"projection":{"type":"identity","scale":1,"translate":[-684,-10],"precision":0.13},"encoding":{"longitude":{"field":"x","type":"quantitative"},"latitude":{"field":"y","type":"quantitative"},"text":{"field":"t"}}},
{"data":{"values":[{"x":1059,"y":662,"t":"0"},{"x":1133,"y":662,"t":"0.5"},{"x":1207,"y":662,"t":"1"},{"x":1226,"y":682,"t":"km"}]},"mark":{"type":"text","font":"Liberation Sans","fontSize":20,"color":"#111","baseline":"middle"},"projection":{"type":"identity","scale":1,"translate":[-684,-10],"precision":0.13},"encoding":{"longitude":{"field":"x","type":"quantitative"},"latitude":{"field":"y","type":"quantitative"},"text":{"field":"t"}}},
{"data":{"values":[{"x":1272,"y":633,"t":"N"}]},"mark":{"type":"text","font":"Liberation Serif","fontSize":15,"color":"#111","baseline":"middle"},"projection":{"type":"identity","scale":1,"translate":[-684,-10],"precision":0.13},"encoding":{"longitude":{"field":"x","type":"quantitative"},"latitude":{"field":"y","type":"quantitative"},"text":{"field":"t"}}}
]},
{"width":684,"height":435,"layer":[
{"data":{"name":"cells"},"mark":{"type":"line","color":"#333","strokeWidth":1,"strokeDash":[2,2]},"encoding":{"x":{"field":"k","type":"quantitative","scale":{"domain":[-0.41935,10.6129],"nice":false,"zero":false},"axis":{"orient":"top","values":[0,1,2,3,4,5,6],"labelExpr":"['1955','1976','1989','1998','2008','2012','2014'][datum.value]","title":null,"domain":false,"ticks":false,"grid":false,"offset":50,"labelFont":"Open Sans","labelFontStyle":"italic","labelFontSize":16.5,"labelColor":"#333","labelPadding":0,"labelBaseline":"middle"}},"y":{"field":"y","type":"quantitative","scale":{"domain":[1178,743],"nice":false,"zero":false},"axis":null},"detail":{"field":"y","type":"nominal"}}},
{"data":{"name":"links"},"mark":{"type":"line","color":"#333","strokeWidth":1,"strokeDash":[2,2]},"encoding":{"x":{"field":"k","type":"quantitative"},"y":{"field":"y","type":"quantitative"},"detail":{"field":"g","type":"nominal"},"order":{"field":"i","type":"quantitative"}}},
{"data":{"name":"cells"},"mark":{"type":"point","shape":"square","filled":true,"fill":"white","stroke":"#444","strokeWidth":1.8,"size":900,"opacity":1},"encoding":{"x":{"field":"k","type":"quantitative"},"y":{"field":"y","type":"quantitative"}}},
{"data":{"name":"cells"},"mark":{"type":"text","font":"Liberation Serif","fontSize":20,"color":"#444","baseline":"middle"},"encoding":{"x":{"field":"k","type":"quantitative"},"y":{"field":"y","type":"quantitative"},"text":{"field":"v"}}},
{"data":{"name":"heads"},"mark":{"type":"point","shape":"triangle-right","filled":true,"color":"#222","size":60,"opacity":1},"encoding":{"x":{"field":"k","type":"quantitative"},"y":{"field":"y","type":"quantitative"}}},
{"data":{"name":"heads"},"mark":{"type":"text","font":"Open Sans","fontWeight":"bold","fontSize":19,"color":"#333","align":"left","baseline":"middle","dx":12},"encoding":{"x":{"field":"k","type":"quantitative"},"y":{"field":"y","type":"quantitative"},"text":{"field":"t"}}},
{"data":{"values":[{"k":9.31,"y":720,"t":"(d)"}]},"mark":{"type":"text","font":"Open Sans","fontWeight":600,"fontSize":44,"color":"#333","baseline":"middle"},"encoding":{"x":{"field":"k","type":"quantitative"},"y":{"field":"y","type":"quantitative"},"text":{"field":"t"}}}
]},
{"width":612,"height":435,"view":{"stroke":"#c8c8c8","strokeWidth":1.5},"resolve":{"scale":{"x":"independent"}},"layer":[
{"data":{"values":[{"v":200,"a":0,"b":1},{"v":400,"a":0,"b":1},{"v":600,"a":0,"b":1},{"v":800,"a":0,"b":1}]},"mark":{"type":"rule","color":"#999","strokeWidth":1.3},"encoding":{"x":{"field":"a","type":"quantitative","scale":{"domain":[0,1],"range":[59,608]},"axis":null},"x2":{"field":"b"},"y":{"field":"v","type":"quantitative","scale":{"domain":[0,800],"range":[361,72]},"axis":{"orient":"left","offset":-59,"values":[0,200,400,600,800],"grid":false,"domainColor":"#555","ticks":false,"labelFont":"Lato","labelFontSize":16,"labelColor":"#222","labelPadding":3,"title":"[ha]","titleFont":"Lato","titleFontSize":19,"titleFontWeight":"bold","titleColor":"#222","titleX":-46,"titleY":216,"titleBaseline":"middle"}}}},
{"data":{"name":"bars"},"mark":{"type":"bar","size":30},"encoding":{"x":{"field":"s","type":"nominal","sort":null,"scale":{"range":[43.3,615.7],"paddingInner":0,"paddingOuter":0},"axis":{"orient":"bottom","offset":-74,"domain":false,"ticks":false,"labelAngle":0,"labelFont":"Lato","labelFontSize":17,"labelColor":"#222","labelPadding":8,"title":"Spatio-Temporal Patterns (STePs)","titleFont":"Lato","titleFontSize":20.5,"titleFontWeight":"bold","titleColor":"#222","titleX":331,"titleY":49,"titleBaseline":"middle"}},"y":{"field":"ha","type":"quantitative"},"fill":{"field":"c","type":"nominal","legend":null,"scale":{"domain":["P","A","I","TA","TI","F"],"range":["#7f00a8","#ff0000","#38a800","#8ed16a","#ffaa00","#7ab4f7"]}}}},
{"data":{"values":[{"v":0,"a":0,"b":1}]},"mark":{"type":"rule","color":"#222","strokeWidth":1.5},"encoding":{"x":{"field":"a","type":"quantitative","scale":{"domain":[0,1],"range":[59,608]},"axis":null},"x2":{"field":"b"},"y":{"field":"v","type":"quantitative"}}},
{"data":{"name":"bars"},"mark":{"type":"text","font":"Lato","fontSize":16,"color":"#222","baseline":"bottom","dy":-1},"encoding":{"x":{"field":"s","type":"nominal","sort":null,"scale":{"range":[43.3,615.7],"paddingInner":0,"paddingOuter":0},"axis":null},"y":{"field":"ha","type":"quantitative"},"text":{"field":"ha","type":"quantitative","format":".2f"}}},
{"data":{"values":[{"a":0.909,"v":908,"t":"(c)"}]},"mark":{"type":"text","font":"Open Sans","fontWeight":600,"fontSize":44,"color":"#333","baseline":"middle"},"encoding":{"x":{"field":"a","type":"quantitative","scale":{"domain":[0,1],"range":[59,608]},"axis":null},"y":{"field":"v","type":"quantitative"},"text":{"field":"t"}}}
]}
]}
